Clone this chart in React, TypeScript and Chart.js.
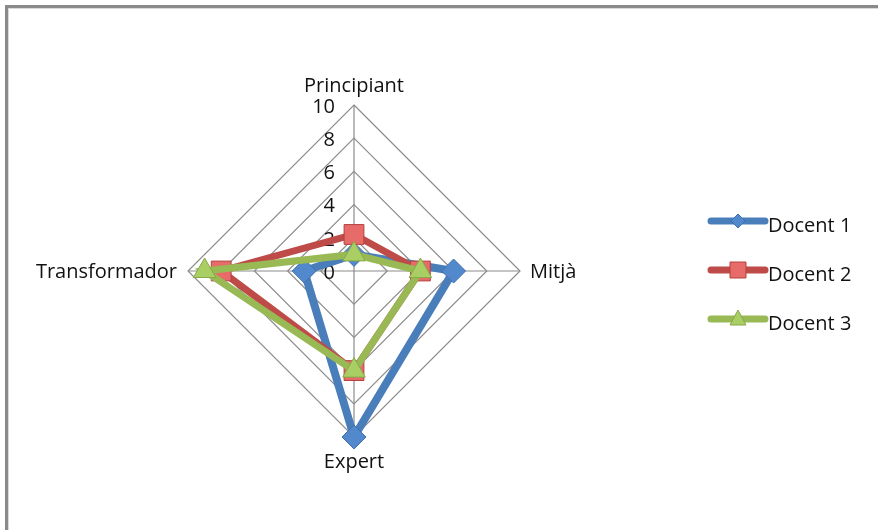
import React, { useEffect, useRef } from "react";
import { Chart, registerables } from "chart.js";

Chart.register(...registerables);

const categories = ["Principiant", "Mitjà", "Expert", "Transformador"];
const seriesNames = ["Docent 1", "Docent 2", "Docent 3"];
const docent1 = [1, 6, 10, 3];
const docent2 = [2.2, 4, 6, 8];
const docent3 = [1, 4, 6, 9];
const tickValues = [0, 2, 4, 6, 8, 10];

const FONT = '20px "Open Sans"';
const TEXT = "#111111";

const lineColors = ["#4A7EBB", "#BE4B48", "#98B954"];
const markerFill = ["#5289cc", "#E66B69", "#A8CE64"];
const markerBorder = ["#3f70ad", "#B4423F", "#88A84A"];
const markerStyle = ["rectRot", "rect", "triangle"];

function drawMarker(ctx: CanvasRenderingContext2D, i: number, x: number, y: number) {
  ctx.save();
  ctx.fillStyle = markerFill[i];
  ctx.strokeStyle = markerBorder[i];
  ctx.lineWidth = 1;
  ctx.beginPath();
  if (i === 0) {
    const r = 7;
    ctx.moveTo(x, y - r);
    ctx.lineTo(x + r, y);
    ctx.lineTo(x, y + r);
    ctx.lineTo(x - r, y);
    ctx.closePath();
  } else if (i === 1) {
    const s = 8;
    ctx.rect(x - s, y - s, 2 * s, 2 * s);
  } else {
    ctx.moveTo(x, y - 9);
    ctx.lineTo(x + 8, y + 6);
    ctx.lineTo(x - 8, y + 6);
    ctx.closePath();
  }
  ctx.fill();
  ctx.stroke();
  ctx.restore();
}

const overlay = {
  id: "overlay",
  beforeDatasetsDraw(chart: any) {
    const ctx = chart.ctx as CanvasRenderingContext2D;
    const r = chart.scales.r;
    ctx.save();
    ctx.font = FONT;
    ctx.fillStyle = TEXT;
    ctx.textAlign = "right";
    ctx.textBaseline = "middle";
    tickValues.forEach((v) => {
      const p = r.getPointPositionForValue(0, v);
      ctx.fillText(String(v), p.x - 19, p.y + 2);
    });
    ctx.restore();
  },
  afterDraw(chart: any) {
    const ctx = chart.ctx as CanvasRenderingContext2D;
    const r = chart.scales.r;
    ctx.save();
    ctx.font = FONT;
    ctx.fillStyle = TEXT;
    ctx.textBaseline = "alphabetic";
    categories.forEach((c, i) => {
      const p = r.getPointPositionForValue(i, r.max);
      if (i === 0) {
        ctx.textAlign = "center";
        ctx.fillText(c, p.x, p.y - 13);
      } else if (i === 1) {
        ctx.textAlign = "left";
        ctx.fillText(c, p.x + 10, p.y + 7);
      } else if (i === 2) {
        ctx.textAlign = "center";
        ctx.fillText(c, p.x, p.y + 31);
      } else {
        ctx.textAlign = "right";
        ctx.fillText(c, p.x - 11, p.y + 7);
      }
    });
    // legend
    const legendX0 = 711;
    const legendX1 = 765;
    const legendY = [221, 270, 319];
    seriesNames.forEach((name, i) => {
      const y = legendY[i];
      ctx.save();
      ctx.strokeStyle = lineColors[i];
      ctx.lineWidth = 7;
      ctx.lineCap = "round";
      ctx.beginPath();
      ctx.moveTo(legendX0, y);
      ctx.lineTo(legendX1, y);
      ctx.stroke();
      ctx.restore();
      drawMarker(ctx, i, (legendX0 + legendX1) / 2, y);
      ctx.fillStyle = TEXT;
      ctx.textAlign = "left";
      ctx.fillText(name, 768, y + 11);
    });
    ctx.restore();
  },
};

export default function App() {
  const ref = useRef<HTMLCanvasElement>(null);
  useEffect(() => {
    const seriesData = [docent1, docent2, docent3];
    const radii = [12, 14, 13];
    const widths = [8, 7, 7];
    const chart = new Chart(ref.current as HTMLCanvasElement, {
      type: "radar",
      data: {
        labels: categories,
        datasets: seriesNames.map((name, i) => ({
          label: name,
          data: seriesData[i],
          order: 3 - i,
          fill: false,
          borderColor: lineColors[i],
          borderWidth: widths[i],
          pointStyle: markerStyle[i] as any,
          pointRadius: radii[i],
          pointHoverRadius: radii[i],
          pointBackgroundColor: markerFill[i],
          pointBorderColor: markerBorder[i],
          pointBorderWidth: 1,
        })),
      },
      options: {
        responsive: false,
        animation: false,
        devicePixelRatio: 1,
        layout: { padding: { left: 188, top: 105, right: 358, bottom: 93 } },
        plugins: { legend: { display: false }, tooltip: { enabled: false } },
        elements: { line: { tension: 0 } },
        scales: {
          r: {
            min: 0,
            max: 10,
            startAngle: 0,
            ticks: { display: false, stepSize: 2 },
            pointLabels: { display: false },
            grid: { color: "#8c8c8c", lineWidth: 1.2 },
            angleLines: { color: "#8c8c8c", lineWidth: 1.2 },
          },
        },
      },
      plugins: [overlay],
    });
    return () => chart.destroy();
  }, []);

  return (
    <div style={{ position: "fixed", inset: 0, overflow: "hidden", background: "#fff" }}>
      <div
        style={{
          position: "absolute",
          left: 5,
          top: 5,
          width: 900,
          height: 560,
          borderTop: "3px solid #8a8a8a",
          borderLeft: "3px solid #8a8a8a",
        }}
      >
        <div style={{ width: "100%", height: "100%", borderTop: "1px solid #d9d9d9", borderLeft: "1px solid #d9d9d9" }} />
      </div>
      <canvas
        ref={ref}
        width={878}
        height={530}
        style={{ position: "absolute", left: 0, top: 0, width: 878, height: 530 }}
      />
    </div>
  );
}
